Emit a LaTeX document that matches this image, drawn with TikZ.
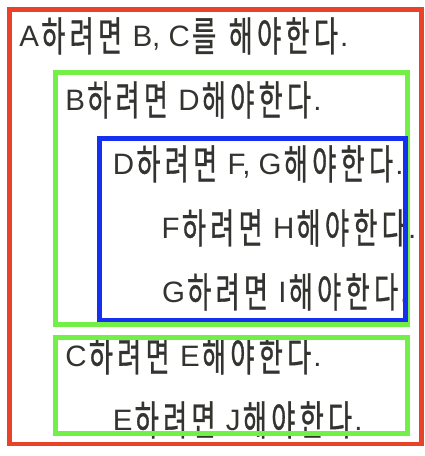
\documentclass[tikz,border=0pt]{standalone}
\usepackage{fontspec}
\setmainfont{Liberation Sans}
\newfontfamily\krfont{Noto Sans CJK KR}[FakeStretch=0.64,FakeBold=0.8]
% every Hangul letter on a fixed pitch
\newcommand\ko[1]{\kochars#1\relax}
\def\kochars#1{\ifx\relax#1\else
  \makebox[28.4pt]{\raisebox{-4.5pt}{\fontsize{41}{41}\krfont#1}}%
  \expandafter\kochars\fi}
\definecolor{textgray}{HTML}{333330}
\definecolor{boxred}{HTML}{E84329}
\definecolor{boxgreen}{HTML}{72F048}
\definecolor{boxblue}{HTML}{1530F0}

\begin{document}
\begin{tikzpicture}
    [x=1pt,y=-1pt,
     rule/.style={anchor=base west,inner sep=0pt,text=textgray,
       font=\fontsize{29.5}{29.5}\selectfont},
     frame/.style={line width=4.6pt}]
    \useasboundingbox (0,0) rectangle (424,456);
    % the rules, one per line
    \node[rule] (ruleA) at (19.3,46.7) {A\ko{하려면} B, C\ko{를} \ko{해야한다}.};
    \node[rule] (ruleB) at (65.1,110.7) {B\ko{하려면} D\ko{해야한다}.};
    \node[rule] (ruleD) at (112.7,174.7) {D\ko{하려면} F, G\ko{해야한다}.};
    \node[rule] (ruleF) at (161.5,238.7) {F\ko{하려면} H\ko{해야한다}.};
    \node[rule] (ruleG) at (161.9,302.7) {G\ko{하려면} I\ko{해야한다}.};
    \node[rule] (ruleC) at (65.2,366.7) {C\ko{하려면} E\ko{해야한다}.};
    \node[rule] (ruleE) at (112.7,430.7) {E\ko{하려면} J\ko{해야한다}.};
    % nested frames
    \draw[frame,boxred] (9.7,9.7) rectangle (421.6,444);
    \draw[frame,boxgreen] (55.7,72.3) rectangle (407.2,324.3);
    \draw[frame,boxgreen] (55.7,337.7) rectangle (407.2,433.7);
    \draw[frame,boxblue] (99.5,138.7) rectangle (405.3,320);
  \end{tikzpicture}
\end{document}
